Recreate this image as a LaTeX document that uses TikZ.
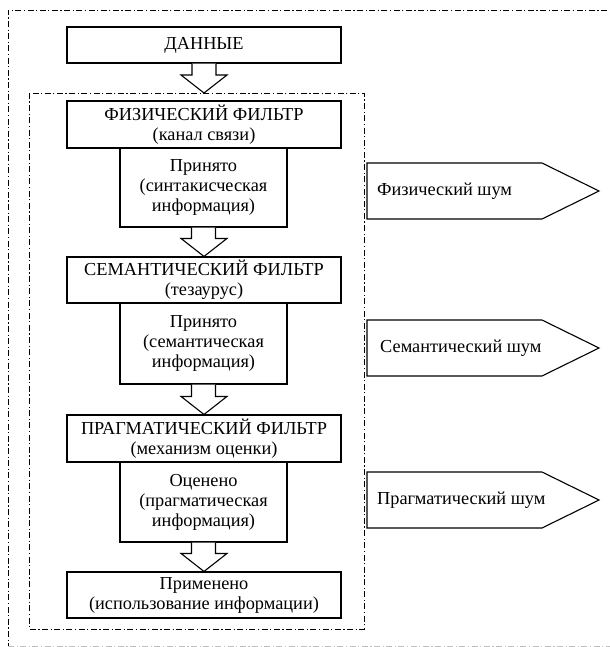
\documentclass[tikz,border=0pt]{standalone}
\usepackage{fontspec}
\setmainfont{Liberation Serif}
\usetikzlibrary{calc}
\begin{document}
\begin{tikzpicture}[x=1bp,y=-1bp,
  txt/.style={font=\fontsize{18.3bp}{20bp}\selectfont},
  box/.style={draw, line width=1.1bp, rectangle, align=center, inner sep=0pt, fill=white, txt},
  wide/.style={box, minimum width=274bp},
  narrow/.style={box, minimum width=167bp},
  noise/.style={anchor=west, inner sep=0pt, txt},
  noiseshape/.style={draw, line width=1.1bp, line join=miter},
  frame/.style={line width=0.9bp, dash pattern=on 6bp off 2.5bp on 1.2bp off 2.5bp},
  hollow/.style={draw, line width=1.1bp, fill=white, line join=miter}]
\useasboundingbox (0,0) rectangle (610,647);
% outer frame
\draw[frame] (607,10) -- (8,10) -- (8,646);
\draw[frame, black!25] (8,646) -- (610,646);
% inner frame
\draw[frame] (29,93) rectangle (364,629);
\coordinate (innertop) at (204,93);
% boxes
\node[wide, minimum height=36bp] (data) at (204,45) {ДАННЫЕ};
\node[narrow, minimum height=79bp] (acc1) at (203.5,187.5) {Принято\\(синтакисческая\\информация)};
\node[wide, minimum height=47bp] (phys) at (204,124.5) {ФИЗИЧЕСКИЙ ФИЛЬТР\\(канал связи)};
\node[narrow, minimum height=81bp] (acc2) at (203.5,343.5) {Принято\\(семантическая\\информация)};
\node[wide, minimum height=46bp] (sem) at (204,280) {СЕМАНТИЧЕСКИЙ ФИЛЬТР\\(тезаурус)};
\node[narrow, minimum height=80bp] (eval) at (203.5,502) {Оценено\\(прагматическая\\информация)};
\node[wide, minimum height=47bp] (prag) at (204,438.5) {ПРАГМАТИЧЕСКИЙ ФИЛЬТР\\(механизм оценки)};
\node[wide, minimum height=46bp] (used) at (204,595) {Применено\\(использование информации)};
% hollow arrows
\foreach \s/\t in {data/innertop, acc1/sem.north, acc2/prag.north, eval/used.north}{
  \coordinate (s) at (\s.south);
  \coordinate (t) at (\t);
  \draw[hollow] ($(s)+(-12,0)$) |- ($(t)+(-23,-18)$) -- (t) -- ($(t)+(23,-18)$) -| ($(s)+(12,0)$);
}
% noise arrows
\node[noise] (n1) at (377,191) {Физический шум};
\draw[noiseshape] ($(n1.west)+(-10,-28)$) -- ++(175,0) -- ++(57,28) -- ++(-57,28) -- ++(-175,0) -- cycle;
\node[noise] (n2) at (380,348) {Семантический шум};
\draw[noiseshape] ($(n2.west)+(-13,-28)$) -- ++(175,0) -- ++(57,28) -- ++(-57,28) -- ++(-175,0) -- cycle;
\node[noise] (n3) at (377,500) {Прагматический шум};
\draw[noiseshape] ($(n3.west)+(-10,-28)$) -- ++(175,0) -- ++(57,28) -- ++(-57,28) -- ++(-175,0) -- cycle;
\end{tikzpicture}
\end{document}
